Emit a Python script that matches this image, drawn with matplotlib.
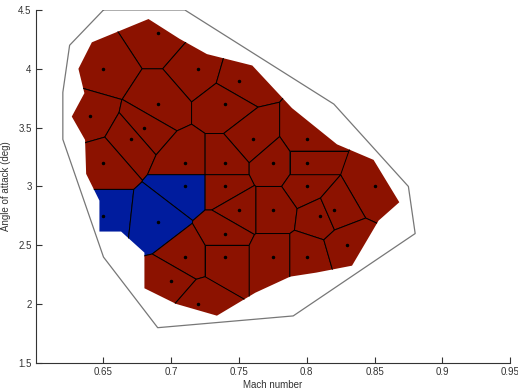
import numpy as np
import matplotlib
matplotlib.use("Agg")
import matplotlib.pyplot as plt
from matplotlib.patches import Polygon

# flight points (Mach, angle of attack)
mach = [0.69, 0.65, 0.72, 0.75, 0.69, 0.74, 0.64, 0.68, 0.67, 0.76, 0.80,
        0.65, 0.71, 0.74, 0.775, 0.80, 0.71, 0.74, 0.80, 0.85,
        0.65, 0.69, 0.75, 0.775, 0.81, 0.82, 0.74,
        0.71, 0.74, 0.775, 0.80, 0.83, 0.70, 0.72]
alpha = [4.3, 4.0, 4.0, 3.9, 3.7, 3.7, 3.6, 3.5, 3.4, 3.4, 3.4,
         3.2, 3.2, 3.2, 3.2, 3.2, 3.0, 3.0, 3.0, 3.0,
         2.75, 2.7, 2.8, 2.8, 2.75, 2.8, 2.6,
         2.4, 2.4, 2.4, 2.4, 2.5, 2.2, 2.0]
flagged = [16, 20, 21]

# region covered by the cells
region_mach = [0.6832, 0.7061, 0.7263, 0.7598, 0.7891, 0.8223, 0.8493, 0.8683,
               0.8530, 0.8334, 0.8070, 0.7878, 0.7620, 0.7337, 0.7036, 0.6802,
               0.6802, 0.6630, 0.6470, 0.6470, 0.6372, 0.6364, 0.6266, 0.6359,
               0.6315, 0.6414]
region_alpha = [4.423, 4.255, 4.125, 4.028, 3.666, 3.358, 3.226, 2.866,
                2.710, 2.327, 2.268, 2.234, 2.097, 1.902, 2.002, 2.135,
                2.438, 2.617, 2.617, 2.880, 3.107, 3.396, 3.594, 3.793,
                4.000, 4.225]

# flight envelope
env_mach = [0.65, 0.71, 0.82, 0.875, 0.88, 0.79, 0.69, 0.65, 0.62, 0.62, 0.625]
env_alpha = [4.5, 4.5, 3.7, 3.0, 2.6, 1.9, 1.8, 2.4, 3.4, 3.8, 4.2]

red = '#8c1200'
blue = '#001c9e'
scale = 11.5


def clip_halfplane(poly, n, c):
    out = []
    for i in range(len(poly)):
        p, q = poly[i], poly[(i + 1) % len(poly)]
        dp, dq = n @ p - c, n @ q - c
        if dp <= 0:
            out.append(p)
        if dp * dq < 0:
            t = dp / (dp - dq)
            out.append(p + t * (q - p))
    return np.array(out)


def voronoi_cells(x, y):
    pts = np.column_stack([np.array(x) * scale, np.array(y)])
    box = np.array([[0.5, 1.0], [1.0, 1.0], [1.0, 5.0], [0.5, 5.0]])
    box[:, 0] *= scale
    cells = []
    for i, p in enumerate(pts):
        poly = box.copy()
        for j, q in enumerate(pts):
            if i == j:
                continue
            n = q - p
            c = n @ (p + q) / 2
            poly = clip_halfplane(poly, n, c)
        poly[:, 0] /= scale
        cells.append(poly)
    return cells


fig = plt.figure(figsize=(5.18, 3.92), dpi=100)
ax = fig.add_axes([0.069, 0.074, 0.9156, 0.9006])

region = Polygon(np.column_stack([region_mach, region_alpha]), closed=True,
                 facecolor='none', edgecolor='none')
ax.add_patch(region)

for i, cell in enumerate(voronoi_cells(mach, alpha)):
    color = blue if i in flagged else red
    patch = Polygon(cell, closed=True, facecolor=color, edgecolor='black',
                    linewidth=0.7)
    ax.add_patch(patch)
    patch.set_clip_path(region)

ax.plot(mach, alpha, 'k.', markersize=3)
ax.plot(env_mach + env_mach[:1], env_alpha + env_alpha[:1], color='#777777',
        linewidth=0.9)

ax.set_xlim(0.6, 0.95)
ax.set_ylim(1.5, 4.5)
ax.set_xticks([0.65, 0.7, 0.75, 0.8, 0.85, 0.9, 0.95])
ax.set_xticklabels(['0.65', '0.7', '0.75', '0.8', '0.85', '0.9', '0.95'])
ax.set_yticks([1.5, 2, 2.5, 3, 3.5, 4, 4.5])
ax.set_yticklabels(['1.5', '2', '2.5', '3', '3.5', '4', '4.5'])
ax.spines['top'].set_visible(False)
ax.spines['right'].set_visible(False)
for s in ['left', 'bottom']:
    ax.spines[s].set_color('#333333')
    ax.spines[s].set_linewidth(0.8)
ax.tick_params(direction='in', length=4, width=0.8, colors='#333333',
               labelsize=7, pad=3)
for lab in ax.get_xticklabels() + ax.get_yticklabels():
    lab.set_fontfamily('Liberation Sans')
ax.set_xlabel('Mach number', fontsize=7, family='Liberation Sans',
              color='#333333', labelpad=2)
ax.set_ylabel('Angle of attack (deg)', fontsize=7, family='Liberation Sans',
              color='#333333', labelpad=5)

fig.savefig('out.png', dpi=100)
